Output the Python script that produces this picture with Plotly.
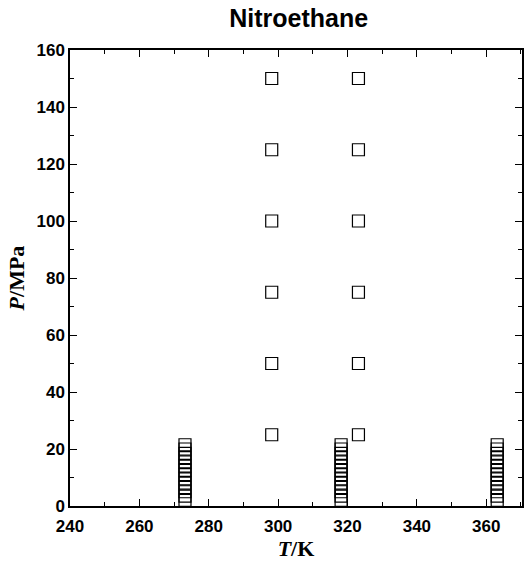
import plotly.graph_objects as go

# Data
stack_temperatures = [273.15, 318.15, 363.15]
stack_pressures = [2.0, 3.5, 5.0, 6.5, 8.0, 9.5, 11.0, 12.5, 14.0, 15.5, 17.0, 18.5, 20.0, 21.5]
high_temperatures = [298.15, 323.15]
high_pressures = [25, 50, 75, 100, 125, 150]

x_ticks = [240, 260, 280, 300, 320, 340, 360]
y_ticks = [0, 20, 40, 60, 80, 100, 120, 140, 160]

xs, ys = [], []
for t in stack_temperatures:
    for p in stack_pressures:
        xs.append(t)
        ys.append(p)
for t in high_temperatures:
    for p in high_pressures:
        xs.append(t)
        ys.append(p)

fig = go.Figure()
fig.add_trace(go.Scatter(
    x=xs, y=ys, mode="markers",
    marker=dict(symbol="square-open", size=12, color="black", line=dict(width=1.2, color="black")),
    showlegend=False, cliponaxis=False,
))

tickfont = dict(family="Liberation Sans, Arial, sans-serif", size=17, color="black", weight="bold")
titlefont = dict(family="Liberation Serif, Times New Roman, serif", size=22, color="black", weight="bold")

fig.update_layout(
    width=524, height=563,
    margin=dict(l=70, r=0, t=50, b=57),
    paper_bgcolor="white", plot_bgcolor="white",
    title=dict(text="Nitroethane", x=0.57, xanchor="center", y=0.968, yanchor="middle",
               font=dict(family="Liberation Sans, Arial, sans-serif", size=25, color="black", weight="bold")),
)
fig.update_xaxes(
    range=[240, 370.3], tickvals=x_ticks, ticktext=[str(v) for v in x_ticks],
    ticks="inside", ticklen=7, tickwidth=1.3, tickcolor="black",
    minor=dict(dtick=10, tick0=240, ticks="inside", ticklen=4, tickwidth=1, tickcolor="black"),
    showline=True, linecolor="black", linewidth=1.5, mirror="ticks",
    showgrid=False, zeroline=False, tickfont=tickfont, ticklabelstandoff=4,
    title=dict(text="<i>T</i>/K", font=titlefont, standoff=4),
)
fig.update_yaxes(
    range=[0, 160], tickvals=y_ticks, ticktext=[str(v) for v in y_ticks],
    ticks="inside", ticklen=7, tickwidth=1.3, tickcolor="black",
    minor=dict(dtick=10, tick0=0, ticks="inside", ticklen=4, tickwidth=1, tickcolor="black"),
    showline=True, linecolor="black", linewidth=1.5, mirror="ticks",
    showgrid=False, zeroline=False, tickfont=tickfont,
    title=dict(text="<i>P</i>/MPa", font=titlefont, standoff=6),
)

fig.write_html("out.html")
